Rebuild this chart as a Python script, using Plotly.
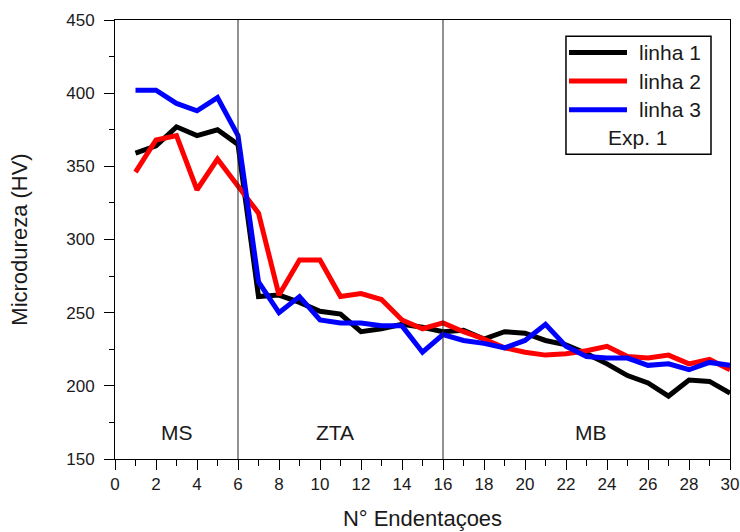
import plotly.graph_objects as go

# ---- data ----
indentacoes = list(range(1, 31))
linha1 = [359, 364, 377, 371, 375, 365, 261, 262, 257, 251, 249, 237, 239, 242, 240,
          237, 238, 232, 237, 236, 231, 228, 222, 215, 207, 202, 193, 204, 203, 195]
linha2 = [346, 368, 371, 334, 355, 336, 318, 262, 286, 286, 261, 263, 259, 245, 239,
          243, 237, 232, 226, 223, 221, 222, 224, 227, 220, 219, 221, 215, 218, 211]
linha3 = [402, 402, 393, 388, 397, 371, 271, 250, 261, 245, 243, 243, 241, 241, 223,
          235, 231, 229, 226, 231, 242, 227, 220, 219, 219, 214, 215, 211, 216, 214]
series_names = ["linha 1", "linha 2", "linha 3"]
series_colors = ["#000000", "#ff0000", "#0000ff"]
zone_bounds = [6, 16]
zone_labels = ["MS", "ZTA", "MB"]
zone_label_x = [3, 10.75, 23.2]
zone_label_y = 168
x_ticks = list(range(0, 31, 2))
y_ticks = list(range(150, 451, 50))

FONT = "Liberation Sans, Arial, sans-serif"
TXT = "#1a1a1a"

fig = go.Figure()
for name, vals, col in zip(series_names, [linha1, linha2, linha3], series_colors):
    fig.add_trace(go.Scatter(x=indentacoes, y=vals, mode="lines", name=name,
                             line=dict(color=col, width=5), showlegend=False))

# zone separators
for xb in zone_bounds:
    fig.add_shape(type="line", xref="x", yref="paper", x0=xb, x1=xb, y0=0, y1=1,
                  line=dict(color="#222222", width=1))

# zone labels
for lab, xl in zip(zone_labels, zone_label_x):
    fig.add_annotation(x=xl, y=zone_label_y, xref="x", yref="y", text=lab,
                       showarrow=False, font=dict(family=FONT, size=21, color=TXT))

# legend box (drawn manually to match long line samples)
L_X0, L_X1, L_Y0, L_Y1 = 0.7333, 0.9691, 0.694, 0.9632
fig.add_shape(type="rect", xref="paper", yref="paper", x0=L_X0, x1=L_X1, y0=L_Y0, y1=L_Y1,
              line=dict(color="#000000", width=1.5), fillcolor="white", layer="above")
row_y = [0.926, 0.8608, 0.7957]
for name, col, ry in zip(series_names, series_colors, row_y):
    fig.add_shape(type="line", xref="paper", yref="paper", x0=0.7382, x1=0.8325,
                  y0=ry, y1=ry, line=dict(color=col, width=5), layer="above")
    fig.add_annotation(x=0.8488, y=ry, xref="paper", yref="paper", text=name,
                       xanchor="left", yanchor="middle", showarrow=False,
                       font=dict(family=FONT, size=21, color=TXT))
fig.add_annotation(x=(L_X0 + L_X1) / 2, y=0.7327, xref="paper", yref="paper", text="Exp. 1",
                   xanchor="center", yanchor="middle", showarrow=False,
                   font=dict(family=FONT, size=21, color=TXT))

fig.update_layout(
    width=740, height=532,
    margin=dict(l=115, r=10, t=20, b=73),
    paper_bgcolor="white", plot_bgcolor="white",
    font=dict(family=FONT, color=TXT),
    showlegend=False,
    xaxis=dict(range=[0, 30], tickvals=x_ticks, showgrid=False, zeroline=False,
               automargin=False,
               showline=True, linecolor="black", linewidth=1, mirror=True,
               ticks="outside", ticklen=10, tickcolor="black",
               minor=dict(dtick=1, ticks="outside", ticklen=6, tickcolor="black"),
               tickfont=dict(family=FONT, size=17, color=TXT),
               title=dict(text="N° Endentaçoes", font=dict(family=FONT, size=22, color=TXT),
                          standoff=17)),
    yaxis=dict(range=[150, 450], tickvals=y_ticks, showgrid=False, zeroline=False,
               automargin=False,
               showline=True, linecolor="black", linewidth=1, mirror=True,
               ticks="outside", ticklen=10, tickcolor="black",
               minor=dict(dtick=25, ticks="outside", ticklen=5, tickcolor="black"),
               tickfont=dict(family=FONT, size=17, color=TXT),
               ticklabelstandoff=6,
               title=dict(text="Microdureza (HV)", font=dict(family=FONT, size=22, color=TXT),
                          standoff=32)),
)

fig.write_html("out.html")
